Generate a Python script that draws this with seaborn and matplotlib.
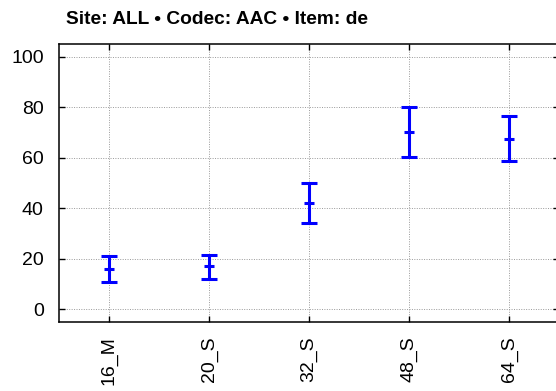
import matplotlib
matplotlib.use("Agg")
import seaborn as sns
from matplotlib import pyplot as plt

# values
conditions = ["16_M", "20_S", "32_S", "48_S", "64_S"]
means = [16.0, 17.0, 42.0, 70.2, 67.4]
lower = [11.0, 12.2, 34.1, 60.1, 58.8]
upper = [21.0, 21.4, 50.0, 80.0, 76.5]
y_ticks = [0, 20, 40, 60, 80, 100]

sns.set_style("white")
plt.rcParams["font.family"] = ["Liberation Sans", "DejaVu Sans"]

fig = plt.figure(figsize=(5.56, 3.91), dpi=100)
ax = fig.add_axes([59 / 556, 1 - 322 / 391, 500 / 556, 278 / 391])

err_lo = [m - l for m, l in zip(means, lower)]
err_hi = [u - m for m, u in zip(means, upper)]
ax.errorbar(conditions, means, yerr=[err_lo, err_hi], fmt="none",
            ecolor="#0000ff", elinewidth=2.2, capsize=5.5, capthick=2.2, zorder=3)
sns.scatterplot(x=conditions, y=means, marker="_", s=60, color="#0000ff",
                linewidth=2.2, ax=ax, zorder=4)

ax.set_xlim(-0.5, 4.5)
ax.set_ylim(-5, 105)
ax.set_yticks(y_ticks)
ax.grid(True, linestyle=(0, (1, 1.5)), color="#999999", linewidth=0.7)
ax.set_axisbelow(True)
for side in ["left", "bottom", "top", "right"]:
    ax.spines[side].set_color("black")
    ax.spines[side].set_linewidth(1.1)
ax.tick_params(axis="both", direction="in", length=4, width=1, colors="black",
               labelsize=14, top=True, right=True, left=True, bottom=True)
ax.tick_params(axis="y", pad=11)
ax.tick_params(axis="x", pad=10.5)
plt.setp(ax.get_xticklabels(), rotation=90)

fig.text(66 / 556, 1 - 24 / 391, "Site: ALL \u2022 Codec: AAC \u2022 Item: de",
         fontsize=13.8, fontweight="bold", color="black", ha="left", va="baseline")

fig.savefig("out.png", dpi=100)
